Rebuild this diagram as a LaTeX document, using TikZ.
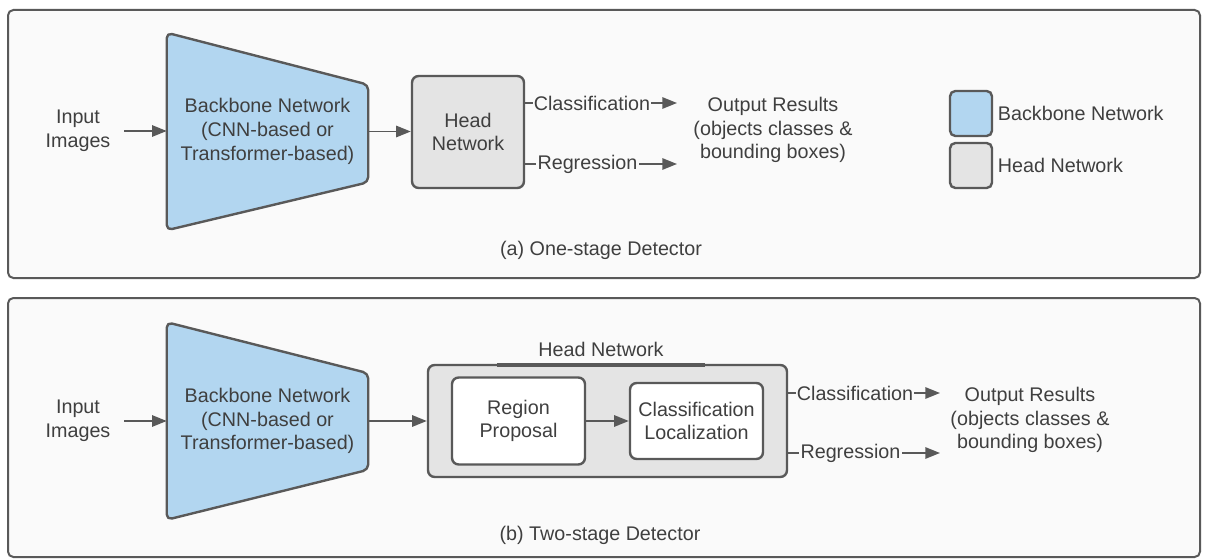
\documentclass[tikz,border=0pt]{standalone}
\usepackage{fontspec}
\setmainfont{Liberation Sans}
\usetikzlibrary{arrows.meta, positioning, calc}
\definecolor{edge}{HTML}{595959}
\definecolor{ink}{HTML}{3F3F3F}
\definecolor{bbblue}{HTML}{B2D6F0}
\definecolor{headgray}{HTML}{E4E4E4}
\definecolor{panelbg}{HTML}{FAFAFA}

\begin{document}
\begin{tikzpicture}[
        x=0.75pt, y=-0.75pt,
        >={Triangle[length=11pt,width=8.5pt]},
        every node/.style={font=\fontsize{14.8}{17.8}\selectfont, text=ink, align=center},
        panel/.style={draw=edge, line width=1.5pt, fill=panelbg, rounded corners=4pt},
        backbone/.style={draw=edge, line width=1.8pt, fill=bbblue, rounded corners=4pt, line join=round},
        headbox/.style={draw=edge, line width=1.8pt, fill=headgray, rounded corners=5pt},
        innerbox/.style={draw=edge, line width=1.8pt, fill=white, rounded corners=5pt},
        hole/.style={minimum width=150.75pt, minimum height=147.75pt, inner sep=0pt},
        key/.style={headbox, minimum width=31.5pt, minimum height=33.75pt, inner sep=0pt, rounded corners=4pt},
        arr/.style={->, draw=edge, line width=1.4pt},
        onarr/.style={fill=panelbg, inner sep=1pt}
    ]

    \useasboundingbox (0,0) rectangle (1208,560);

    % (a) one-stage detector
    \draw[panel] (8,10) rectangle (1200,278);

    \node[hole] (bbA) at (267.5,131.5) {};
    \draw[backbone] (bbA.north west) -- ($(bbA.north east)+(0,52)$) -- ($(bbA.south east)+(0,-48)$) -- (bbA.south west) -- cycle;
    \node at (bbA) {Backbone Network\\(CNN-based or\\Transformer-based)};

    \node (inA) at (78,131) {Input\\Images};
    \node[headbox, minimum width=84pt, minimum height=84pt] (headA) at (468,132) {Head\\Network};
    \node (outA) at (773,130) {Output Results\\(objects classes \&\\bounding boxes)};

    \draw[arr, shorten <=7pt] (inA.east) -- (inA.east -| bbA.west);
    \draw[arr] (bbA.east) -- (bbA.east -| headA.west);

    \coordinate (clsA) at (677,103);
    \coordinate (regA) at (677,164);
    \draw[arr] (headA.east |- clsA) -- node[onarr, pos=0.44] {Classification} (clsA);
    \draw[arr] (headA.east |- regA) -- node[onarr, pos=0.41] {Regression} (regA);

    % legend
    \node[key, fill=bbblue] (keyBB) at (971,113.5) {};
    \node[key] (keyHead) at (971,165.5) {};
    \node[right=0pt of keyBB] (keyBBtext) {Backbone Network};
    \node[right=0pt of keyHead] (keyHeadtext) {Head Network};

    \node (capA) at (601,250) {(a) One-stage Detector};

    % (b) two-stage detector
    \draw[panel] (8,298) rectangle (1200,557);

    \node[hole] (bbB) at (267.5,421) {};
    \draw[backbone] (bbB.north west) -- ($(bbB.north east)+(0,51)$) -- ($(bbB.south east)+(0,-50)$) -- (bbB.south west) -- cycle;
    \node at (bbB) {Backbone Network\\(CNN-based or\\Transformer-based)};

    \node (inB) at (78,421) {Input\\Images};
    \node[headbox, minimum width=269.25pt, minimum height=84pt] (headB) at (607.5,421) {};
    \node (headlabB) at (601,349) {Head Network};
    \draw[edge, line width=3pt] ($(headlabB.center |- headB.north)+(-104,1.5)$) -- ($(headlabB.center |- headB.north)+(104,1.5)$);

    \node[innerbox, minimum width=99.75pt, minimum height=65.25pt] (rpB) at (518.5,421) {Region\\Proposal};
    \node[innerbox, minimum width=99.75pt, minimum height=57pt] (clB) at (696.5,421) {Classification\\Localization};
    \node (outB) at (1030,420) {Output Results\\(objects classes \&\\bounding boxes)};

    \draw[arr, shorten <=7pt] (inB.east) -- (inB.east -| bbB.west);
    \draw[arr] (bbB.east) -- (bbB.east -| headB.west);
    \draw[arr] (rpB) -- (clB);

    \coordinate (clsB) at (940,393);
    \coordinate (regB) at (940,453);
    \draw[arr] (headB.east |- clsB) -- node[onarr, pos=0.44] {Classification} (clsB);
    \draw[arr] (headB.east |- regB) -- node[onarr, pos=0.41] {Regression} (regB);

    \node (capB) at (600,535) {(b) Two-stage Detector};

\end{tikzpicture}
\end{document}
